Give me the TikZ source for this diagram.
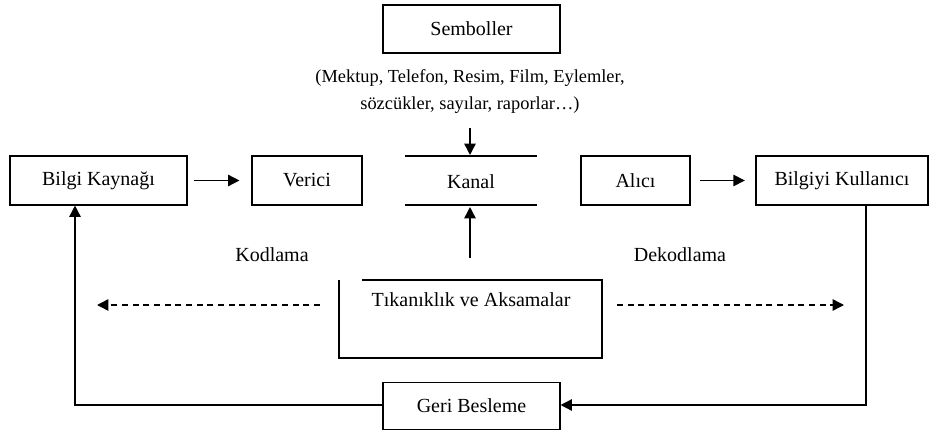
\documentclass[tikz,border=0pt]{standalone}
\usepackage{fontspec}
\setmainfont{Liberation Serif}
\usetikzlibrary{arrows.meta}
\begin{document}
\begin{tikzpicture}[x=0.75pt,y=-0.75pt,
  font=\fontsize{15}{18}\selectfont,
  box/.style={draw,line width=0.8pt,inner sep=0pt,minimum height=36.75pt},
  txt/.style={inner sep=0pt},
  small/.style={inner sep=0pt,font=\fontsize{13.8}{16}\selectfont},
  arr/.style={line width=1.1pt,-{Triangle[length=8.5pt,width=8.5pt]}},
  darr/.style={line width=1.1pt,dash pattern=on 4.5pt off 3.5pt,-{Triangle[length=8.5pt,width=8.5pt]}},
  ln/.style={line width=0.8pt}]
\useasboundingbox (0,0) rectangle (932,432);
% top
\node[box,minimum width=132.75pt,minimum height=36pt] (semb) at (471.5,29) {Semboller};
\node[small] (ex1) at (470,78) {(Mektup, Telefon, Resim, Film, Eylemler,};
\node[small] (ex2) at (470,105) {sözcükler, sayılar, raporlar…)};
% row
\node[box,minimum width=132.75pt] (kay) at (98.5,180.5) {Bilgi Kaynağı};
\node[box,minimum width=82.5pt] (ver) at (307,180.5) {Verici};
\node[txt] (kanal) at (471,182) {Kanal};
\node[box,minimum width=81.75pt] (alici) at (635.5,180.5) {Alıcı};
\node[box,minimum width=129pt] (kul) at (842,180.5) {Bilgiyi Kullanıcı};
\coordinate (kt1) at (405,156); \coordinate (kt2) at (537,156);
\coordinate (kb1) at (405,205); \coordinate (kb2) at (537,205);
\draw[ln] (kt1) -- (kt2);
\draw[ln] (kb1) -- (kb2);
\coordinate (dn0) at (470,128);
\coordinate (dn1) at (470,155);
\draw[arr] (dn0) -- (dn1);
\coordinate (up0) at (470,258);
\coordinate (up1) at (470,207);
\draw[arr] (up0) -- (up1);
\draw[arr] ([xshift=4.5pt]kay.east) -- ([xshift=-9pt]ver.west);
\draw[arr] ([xshift=7pt]alici.east) -- ([xshift=-8pt]kul.west);
% labels
\node[txt] (kod) at (272,255) {Kodlama};
\node[txt] (dek) at (680,255) {Dekodlama};
% obstacle box
\coordinate (t1) at (362,280); \coordinate (t2) at (602,280);
\coordinate (t3) at (602,358); \coordinate (t4) at (339,358);
\coordinate (t5) at (339,280);
\draw[ln] (t1) -- (t2) -- (t3) -- (t4) -- (t5);
\node[txt] (tik) at (471,300) {Tıkanıklık ve Aksamalar};
\coordinate (dl0) at (320,305); \coordinate (dl1) at (97,305);
\coordinate (dr0) at (617,305); \coordinate (dr1) at (844,305);
\draw[darr] (dl0) -- (dl1);
\draw[darr] (dr0) -- (dr1);
% feedback
\node[box,minimum width=132.75pt,minimum height=35pt] (geri) at (471.5,406) {Geri Besleme};
\coordinate (fr) at (866,405);
\coordinate (fl) at (75,405);
\draw[arr] (kul.south -| fr) -- (fr) -- (geri.east |- fr);
\draw[arr] (geri.west |- fl) -- (fl) -- (fl |- kay.south);
\end{tikzpicture}
\end{document}
